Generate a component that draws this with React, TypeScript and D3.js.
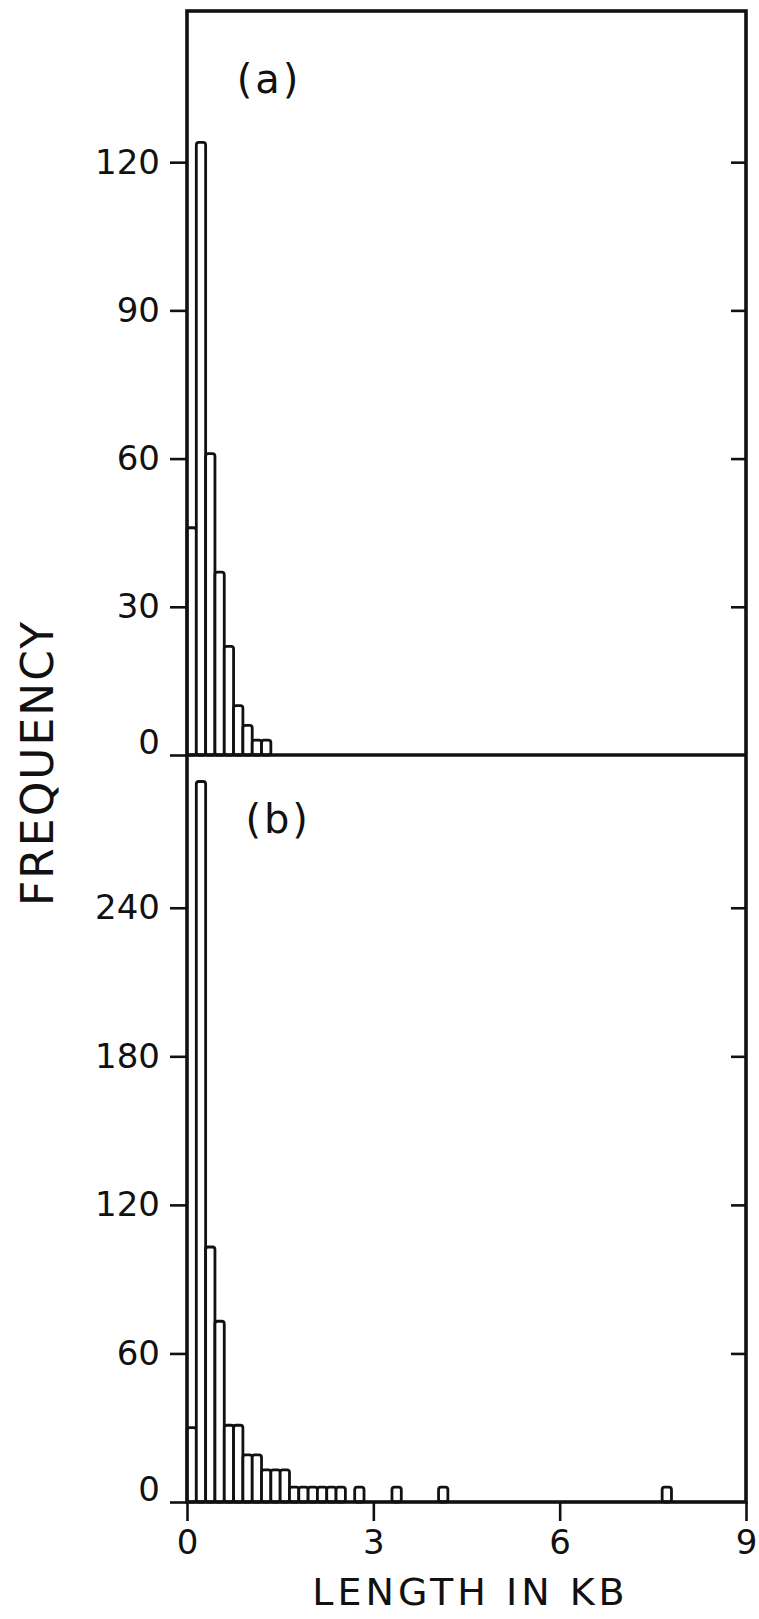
import React, { useEffect, useRef } from "react";
import { axisBottom, axisLeft, axisRight, scaleLinear, select } from "d3";

// histogram bins (kb) and frequencies
const binWidth = 0.15;
const binStartsA = [0, 0.15, 0.3, 0.45, 0.6, 0.75, 0.9, 1.05, 1.2];
const countsA = [46, 124, 61, 37, 22, 10, 6, 3, 3];
const binStartsB = [
	0, 0.15, 0.3, 0.45, 0.6, 0.75, 0.9, 1.05, 1.2, 1.35, 1.5, 1.65, 1.8, 1.95,
	2.1, 2.25, 2.4, 2.7, 3.3, 4.05, 7.65
];
const countsB = [
	30, 291, 103, 73, 31, 31, 19, 19, 13, 13, 13, 6, 6, 6, 6, 6, 6, 6, 6, 6, 6
];
const ticksA = [0, 30, 60, 90, 120];
const ticksB = [0, 60, 120, 180, 240];
const ticksX = [0, 3, 6, 9];
const panelLabels = ["(a)", "(b)"];
const xLabel = "LENGTH IN KB";
const yLabel = "FREQUENCY";

const W = 759;
const H = 1619;
const ink = "#111";
const font = "'DejaVu Sans', sans-serif";
const m = { left: 187, right: 746, top: 11, mid: 755, bottom: 1502 };

function App() {
	const ref = useRef<SVGSVGElement>(null);

	useEffect(() => {
		const svg = select(ref.current);
		svg.selectAll("*").remove();

		const x = scaleLinear().domain([0, 9]).range([m.left, m.right]);
		const yA = scaleLinear().domain([0, 150.6]).range([m.mid, m.top]);
		const yB = scaleLinear().domain([0, 301.7]).range([m.bottom, m.mid]);

		const drawBars = (starts, counts, y) => {
			svg.append("g")
				.selectAll("rect")
				.data(starts.map((s, i) => ({ s, c: counts[i] })))
				.join("rect")
				.attr("x", d => x(d.s))
				.attr("width", d => x(d.s + binWidth) - x(d.s))
				.attr("y", d => y(d.c))
				.attr("height", d => y(0) - y(d.c))
				.attr("rx", 2.5)
				.attr("fill", "#fff")
				.attr("stroke", ink)
				.attr("stroke-width", 2.8);
		};
		drawBars(binStartsA, countsA, yA);
		drawBars(binStartsB, countsB, yB);

		const styleAxis = g => {
			g.select(".domain").remove();
			g.selectAll("line").attr("stroke", ink).attr("stroke-width", 2.6);
			g.selectAll("text")
				.attr("fill", ink)
				.attr("font-family", font)
				.attr("font-size", 34);
		};

		//Left axes with labels
		[
			[yA, ticksA],
			[yB, ticksB]
		].forEach(([y, ticks]) => {
			svg.append("g")
				.attr("transform", `translate(${m.left},0)`)
				.call(axisLeft(y).tickValues(ticks).tickSize(17).tickPadding(10))
				.call(styleAxis)
				.selectAll("text")
				.filter(d => d === 0)
				.attr("y", -12);
			svg.append("g")
				.attr("transform", `translate(${m.right},0)`)
				.call(
					axisRight(y)
						.tickValues(ticks.filter(t => t > 0))
						.tickSize(-15)
						.tickFormat(() => "")
				)
				.call(styleAxis);
		});

		//Bottom axis
		svg.append("g")
			.attr("transform", `translate(0,${m.bottom})`)
			.call(axisBottom(x).tickValues(ticksX).tickSize(19).tickPadding(9))
			.call(styleAxis);

		//Frame
		const frame = svg.append("g").attr("stroke", ink).attr("stroke-width", 3.6).attr("fill", "none");
		frame.append("rect")
			.attr("x", m.left)
			.attr("y", m.top)
			.attr("width", m.right - m.left)
			.attr("height", m.bottom - m.top);
		frame.append("line")
			.attr("x1", m.left)
			.attr("x2", m.right)
			.attr("y1", m.mid)
			.attr("y2", m.mid);

		//Panel labels
		svg.append("text")
			.attr("x", x(0.8))
			.attr("y", yA(134))
			.attr("font-family", font)
			.attr("font-size", 40)
			.attr("fill", ink)
			.attr("letter-spacing", 3)
			.text(panelLabels[0]);
		svg.append("text")
			.attr("x", x(0.94))
			.attr("y", yB(270))
			.attr("font-family", font)
			.attr("font-size", 40)
			.attr("fill", ink)
			.attr("letter-spacing", 3)
			.text(panelLabels[1]);

		//Axis titles
		svg.append("text")
			.attr("x", (m.left + m.right) / 2 + 4)
			.attr("y", 1605)
			.attr("text-anchor", "middle")
			.attr("font-family", font)
			.attr("font-size", 38)
			.attr("letter-spacing", 4)
			.attr("fill", ink)
			.text(xLabel);
		svg.append("text")
			.attr("transform", `translate(53,${m.mid + 8}) rotate(-90)`)
			.attr("text-anchor", "middle")
			.attr("font-family", font)
			.attr("font-size", 44)
			.attr("letter-spacing", 2)
			.attr("fill", ink)
			.text(yLabel);
	}, []);

	return (
		<svg
			ref={ref}
			width={W}
			height={H}
			style={{ position: "absolute", left: 0, top: 0, background: "#fff" }}
		/>
	);
}

export default App;
